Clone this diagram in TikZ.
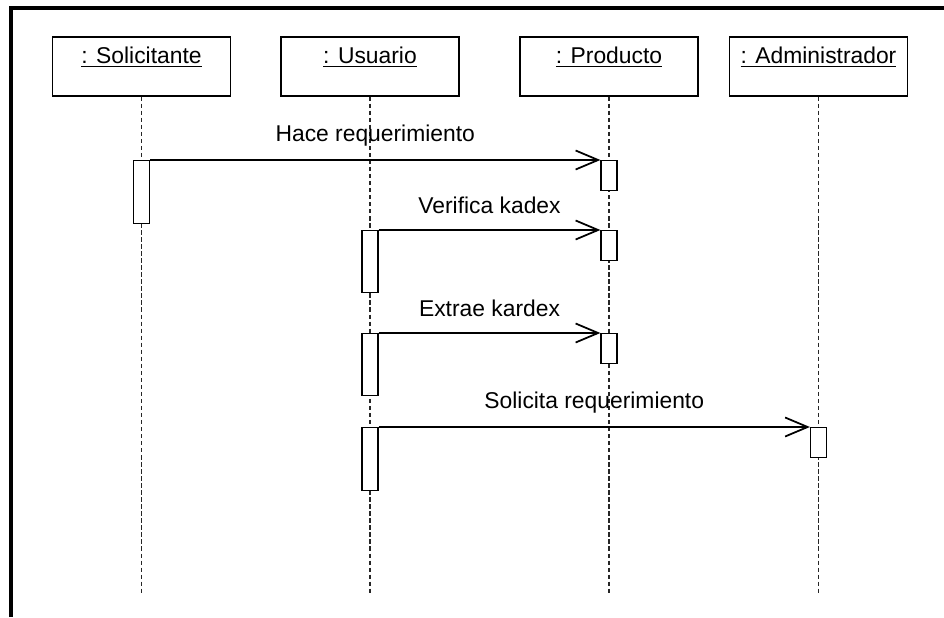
\documentclass[tikz,border=0pt]{standalone}
\usepackage{fontspec}
\setmainfont{Liberation Sans}
\usetikzlibrary{arrows.meta}
\begin{document}
\begin{tikzpicture}[
  frame/.style={line width=2pt,draw=black},
  obj/.style={draw=black,line width=0.7pt,minimum width=3.56cm,minimum height=1.18cm,inner xsep=0pt,inner ysep=0.125cm,text height=0.4cm,text depth=0.53cm,font=\fontsize{13}{15}\selectfont},
  life/.style={draw=black!85,line width=0.6pt,dash pattern=on 2.5pt off 1.5pt},
  act/.style={draw=black,fill=white,line width=0.7pt,minimum width=0.32cm,inner sep=0pt,anchor=north},
  msg/.style={-{Straight Barb[length=4.5mm,width=3.8mm,line width=1pt]},line width=0.7pt,draw=black},
  msgtext/.style={font=\fontsize{13}{15}\selectfont,text=black,midway,yshift=0.49cm},
]
\useasboundingbox (0,0) rectangle (18.88,12.34);
\draw[frame] (0.22,0)--(0.22,12.18)--(18.88,12.18);
\node[obj] (sol) at (2.83,11.01) {\underline{: Solicitante}};
\node[obj] (usu) at (7.40,11.01) {\underline{: Usuario}};
\node[obj] (pro) at (12.18,11.01) {\underline{: Producto}};
\node[obj] (adm) at (16.37,11.01) {\underline{: Administrador}};
\coordinate (bottom) at (0,0.44);
\foreach \o in {sol,usu,pro,adm}{\draw[life] (\o.south)--(\o.south |- bottom);}
\node[act,minimum height=1.26cm] (solA) at (2.83,9.14) {};
\node[act,minimum height=0.6cm] (proA) at (12.18,9.14) {};
\node[act,minimum height=1.24cm] (usuB) at (7.40,7.74) {};
\node[act,minimum height=0.6cm] (proB) at (12.18,7.74) {};
\node[act,minimum height=1.24cm] (usuC) at (7.40,5.68) {};
\node[act,minimum height=0.6cm] (proC) at (12.18,5.68) {};
\node[act,minimum height=1.26cm] (usuD) at (7.40,3.80) {};
\node[act,minimum height=0.6cm] (admD) at (16.37,3.80) {};
\draw[msg] (solA.north east)--(proA.north west) node[msgtext] {Hace requerimiento};
\draw[msg] (usuB.north east)--(proB.north west) node[msgtext] {Verifica kadex};
\draw[msg] (usuC.north east)--(proC.north west) node[msgtext] {Extrae kardex};
\draw[msg] (usuD.north east)--(admD.north west) node[msgtext] {Solicita requerimiento};
\end{tikzpicture}
\end{document}
